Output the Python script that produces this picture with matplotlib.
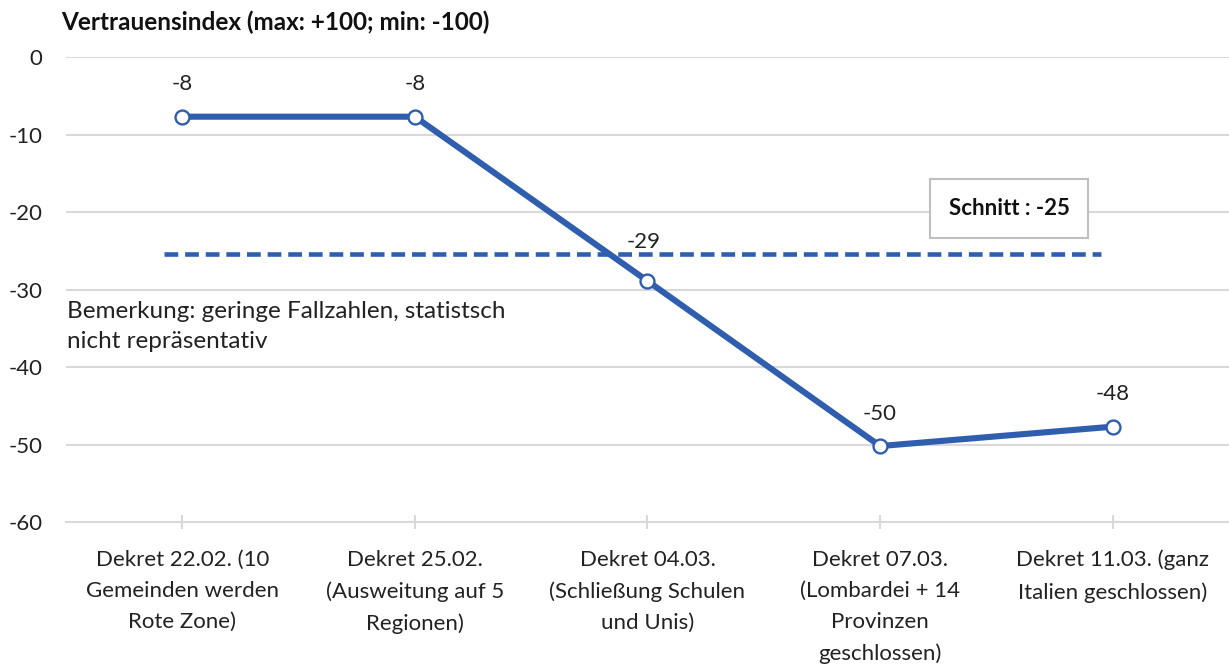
import numpy as np
import matplotlib.pyplot as plt

plt.rcParams['font.family'] = ['Lato', 'DejaVu Sans']

# data
categories = ['Dekret 22.02. (10\nGemeinden werden\nRote Zone)',
              'Dekret 25.02.\n(Ausweitung auf 5\nRegionen)',
              'Dekret 04.03.\n(Schließung Schulen\nund Unis)',
              'Dekret 07.03.\n(Lombardei + 14\nProvinzen\ngeschlossen)',
              'Dekret 11.03. (ganz\nItalien geschlossen)']
values = [-7.7, -7.7, -28.9, -50.2, -47.7]
value_labels = ['-8', '-8', '-29', '-50', '-48']
average = -25.4
average_label = 'Schnitt : -25'

blue = '#2f5eae'
grid = '#d9d9d9'
fs = 16

fig = plt.figure(figsize=(12.29, 6.70), dpi=100)
ax = fig.add_axes([0.0537, 0.2209, 0.9463, 0.694])

x = np.arange(len(categories))

# average line
ax.plot([-0.08, 3.95], [average, average], color=blue, lw=3.3,
        dashes=(3.0, 1.5), zorder=2)

# main series
ax.plot(x, values, color=blue, lw=4.4, marker='o', markersize=10,
        markerfacecolor='white', markeredgecolor=blue, markeredgewidth=1.7,
        solid_capstyle='round', zorder=3)

# label offsets (the -29 label sits a bit higher, above the dashed line)
offsets = [16, 16, 21, 16, 16]
for xi, v, lab, off in zip(x, values, value_labels, offsets):
    ax.annotate(lab, (xi, v), xytext=(-3 if lab == '-29' else 0, off),
                textcoords='offset points',
                ha='center', va='bottom', fontsize=fs, color='#222222', zorder=5)

ax.text(3.554, -19.5, average_label, ha='center', va='center', fontsize=fs,
        fontweight='bold', color='#111111',
        bbox=dict(boxstyle='square,pad=0.85', fc='white', ec='#bfbfbf', lw=1.5),
        zorder=4)

ax.text(-0.494, -34.8, 'Bemerkung: geringe Fallzahlen, statistsch\nnicht repräsentativ',
        ha='left', va='center', fontsize=17.5, color='#222222', linespacing=1.55)

fig.text(0.05, 0.966, 'Vertrauensindex (max: +100; min: -100)', ha='left',
         va='center', fontsize=17.5, fontweight='bold', color='#111111')

ax.set_xlim(-0.5, 4.5)
ax.set_ylim(-60, 0)
ax.set_yticks(np.arange(-60, 1, 10))
ax.set_yticklabels([str(t) for t in range(-60, 1, 10)])
ax.set_xticks(x)
ax.set_xticklabels(categories, fontsize=fs, color='#222222', linespacing=1.7)
ax.tick_params(axis='y', length=0, pad=17, labelsize=fs, labelcolor='#222222')
ax.tick_params(axis='x', direction='inout', length=10, width=1.5, color=grid, pad=15)
ax.grid(axis='y', color=grid, lw=1.5)
ax.set_axisbelow(True)
for s in ['top', 'right', 'left']:
    ax.spines[s].set_visible(False)
ax.spines['bottom'].set_color(grid)
ax.spines['bottom'].set_linewidth(1.5)

fig.savefig('out.png', dpi=100)
